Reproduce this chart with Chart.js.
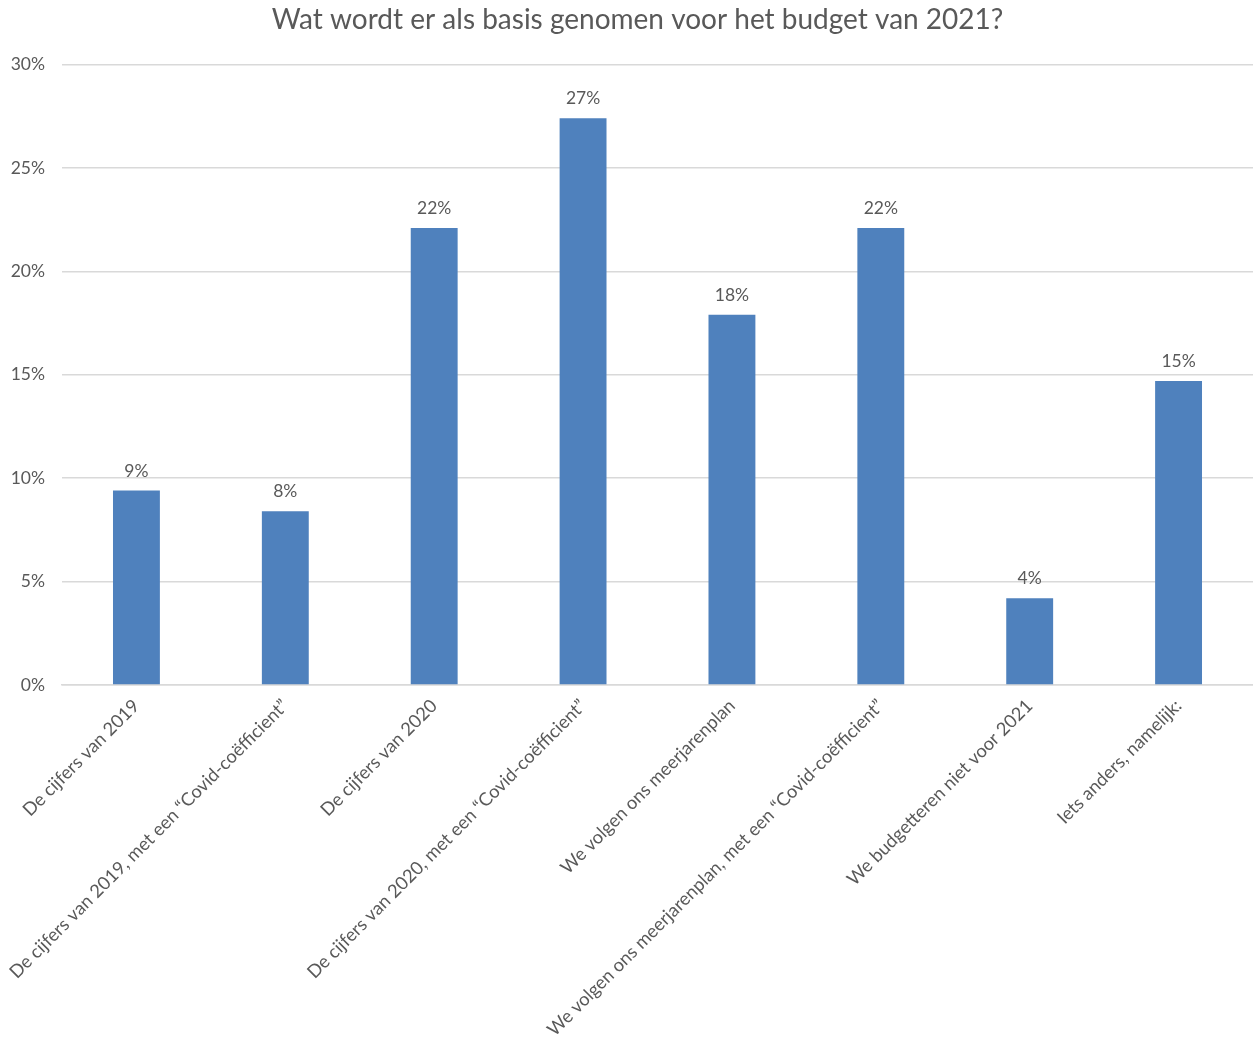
<!DOCTYPE html>
<html lang="nl">
<head>
<meta charset="utf-8">
<title>Budget 2021</title>
<script src="https://cdn.jsdelivr.net/npm/chart.js@4/dist/chart.umd.min.js"></script>
<style>
  html, body { margin: 0; padding: 0; background: #fff; }
  #wrap { width: 1253px; height: 1044px; }
</style>
</head>
<body>
<div id="wrap"><canvas id="chart"></canvas></div>
<script>
const categories = [
  "De cijfers van 2019",
  "De cijfers van 2019, met een \u201cCovid-co\u00ebfficient\u201d",
  "De cijfers van 2020",
  "De cijfers van 2020, met een \u201cCovid-co\u00ebfficient\u201d",
  "We volgen ons meerjarenplan",
  "We volgen ons meerjarenplan, met een \u201cCovid-co\u00ebfficient\u201d",
  "We budgetteren niet voor 2021",
  "Iets anders, namelijk:"
]
const percentages = [9.4, 8.4, 22.1, 27.4, 17.9, 22.1, 4.2, 14.7]
const yTicks = [0, 5, 10, 15, 20, 25, 30]

const textColor = "#595959"
const fontFamily = "Lato, 'Open Sans', sans-serif"

// value labels above each bar
const barLabels = {
  id: "barLabels",
  afterDatasetsDraw(chart) {
    const ctx = chart.ctx
    const meta = chart.getDatasetMeta(0)
    ctx.save()
    ctx.font = "17.5px " + fontFamily
    ctx.fillStyle = textColor
    ctx.textAlign = "center"
    ctx.textBaseline = "alphabetic"
    meta.data.forEach((bar, i) => {
      ctx.fillText(Math.round(percentages[i]) + "%", bar.x, bar.y - 14)
    })
    ctx.restore()
  }
}

// centre the title over the plot a bit more, like the y-axis is not there
const titleShift = {
  id: "titleShift",
  afterLayout(chart) {
    chart.titleBlock.left = 22
  }
}

new Chart(document.getElementById("chart"), {
  type: "bar",
  data: {
    labels: categories,
    datasets: [{
      data: percentages,
      backgroundColor: "#4F81BD",
      borderWidth: 0,
      barPercentage: 1,
      categoryPercentage: 0.315
    }]
  },
  options: {
    responsive: true,
    maintainAspectRatio: false,
    animation: false,
    layout: { padding: 0 },
    plugins: {
      legend: { display: false },
      tooltip: { enabled: false },
      title: {
        display: true,
        text: "Wat wordt er als basis genomen voor het budget van 2021?",
        color: textColor,
        font: { family: fontFamily, size: 28, weight: "normal" },
        padding: { top: 3, bottom: 28 }
      }
    },
    scales: {
      x: {
        grid: { display: false, drawTicks: false },
        border: { display: true, color: "#D9D9D9", width: 1.5 },
        ticks: {
          autoSkip: false,
          maxRotation: 45,
          minRotation: 45,
          padding: 10,
          color: textColor,
          font: { family: fontFamily, size: 18.3 }
        },
        afterFit(scale) { scale.height = 359 }
      },
      y: {
        min: 0,
        max: 30,
        afterBuildTicks(scale) { scale.ticks = yTicks.map(v => ({ value: v })) },
        grid: { color: "#D9D9D9", lineWidth: 1.5, drawTicks: false },
        border: { display: false },
        ticks: {
          padding: 17,
          color: textColor,
          font: { family: fontFamily, size: 17.5 },
          callback: v => v + "%"
        },
        afterFit(scale) { scale.width = 62 }
      }
    }
  },
  plugins: [barLabels, titleShift]
})
</script>
</body>
</html>
